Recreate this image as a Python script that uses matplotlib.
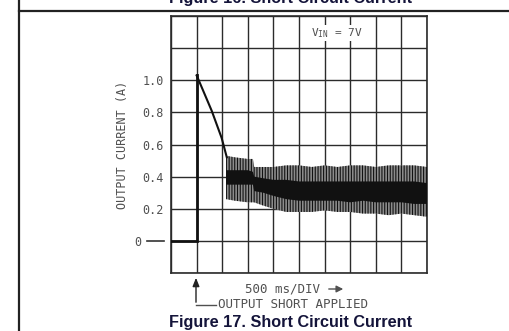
import matplotlib
matplotlib.use("Agg")
import matplotlib.pyplot as plt
from matplotlib.transforms import blended_transform_factory

# ---- data ----
trace_x = [0.0, 1.0, 1.0, 1.03, 1.59, 1.98, 2.18]
trace_y = [0.0, 0.0, 1.03, 1.02, 0.81, 0.64, 0.52]

band_x = [2.15, 2.5, 3.0, 3.2, 3.25, 3.6, 4.0, 4.5, 5.0, 5.5, 6.0, 6.5, 7.0, 7.5, 8.0, 8.5, 9.0, 9.5, 10.0]
outer_hi = [0.53, 0.52, 0.51, 0.51, 0.46, 0.46, 0.46, 0.47, 0.47, 0.46, 0.47, 0.46, 0.47, 0.47, 0.46, 0.47, 0.47, 0.47, 0.46]
outer_lo = [0.26, 0.25, 0.24, 0.24, 0.24, 0.22, 0.20, 0.18, 0.18, 0.18, 0.19, 0.18, 0.18, 0.17, 0.17, 0.16, 0.17, 0.16, 0.15]
inner_hi = [0.44, 0.44, 0.44, 0.43, 0.40, 0.39, 0.38, 0.38, 0.37, 0.37, 0.37, 0.37, 0.37, 0.37, 0.37, 0.37, 0.37, 0.37, 0.36]
inner_lo = [0.35, 0.35, 0.35, 0.35, 0.31, 0.30, 0.28, 0.26, 0.25, 0.25, 0.25, 0.25, 0.24, 0.25, 0.24, 0.24, 0.24, 0.23, 0.23]

x_grid = list(range(0, 11))
ytick_values = [-0.2, 0.0, 0.2, 0.4, 0.6, 0.8, 1.0, 1.2, 1.4]
ytick_labels = ["", "0", "0.2", "0.4", "0.6", "0.8", "1.0", "", ""]

W, H = 510, 331
plt.rcParams["font.family"] = ["DejaVu Sans Mono", "DejaVu Sans"]
plt.rcParams["mathtext.fontset"] = "custom"
plt.rcParams["mathtext.rm"] = "DejaVu Sans Mono"
plt.rcParams["hatch.linewidth"] = 0.8
plt.rcParams["hatch.color"] = "#111111"

txt = "#505050"
fig = plt.figure(figsize=(W / 100, H / 100), dpi=100)
fig.patch.set_facecolor("white")

ax = fig.add_axes([171 / W, 1 - 273 / H, 256 / W, 257 / H])
ax.set_xlim(0, 10)
ax.set_ylim(-0.2, 1.4)

gc = "#2b2b2b"
ax.set_xticks(x_grid)
ax.set_xticklabels([])
ax.set_yticks(ytick_values)
ax.set_yticklabels(ytick_labels)
ax.tick_params(axis="both", length=0, colors=txt, labelsize=8.5, pad=5)
ax.grid(True, color=gc, lw=1.0)
for s in ax.spines.values():
    s.set_color(gc)
    s.set_linewidth(1.2)
for t, v in zip(ax.yaxis.get_major_ticks(), ytick_values):
    if v == 0.0:
        t.set_pad(21)

# dash next to 0
tr = blended_transform_factory(ax.transAxes, ax.transData)
ax.plot([-0.094, -0.027], [0, 0], color="#333333", lw=1.2, transform=tr, clip_on=False)

# trace
ax.plot(trace_x[:3], trace_y[:3], color="#111111", lw=2.0, solid_joinstyle="miter", zorder=5)
ax.plot(trace_x[2:], trace_y[2:], color="#111111", lw=1.5, zorder=5)

# noisy band
ax.fill_between(band_x, outer_lo, outer_hi, facecolor="#8c8c8c", edgecolor="#111111",
                hatch="||||||", lw=0, zorder=4)
ax.fill_between(band_x, inner_lo, inner_hi, facecolor="#111111", lw=0, zorder=4)

# V_IN label
ax.text(6.48, 1.294, r"V$_{\mathrm{IN}}$ = 7V", ha="center", va="center", fontsize=8,
        color=txt, zorder=6,
        bbox=dict(facecolor="white", edgecolor="none", pad=1.0))

# y label
ax.text(-0.191, 0.5, "OUTPUT CURRENT (A)", transform=ax.transAxes, rotation=90,
        ha="center", va="center", fontsize=8.5, color=txt)

# x annotation
fig.text(245 / W, 1 - 289 / H, "500 ms/DIV", ha="left", va="center", fontsize=9, color=txt)
fig.add_artist(matplotlib.patches.FancyArrowPatch((326 / W, 1 - 289 / H), (346 / W, 1 - 289 / H),
               transform=fig.transFigure, arrowstyle="-|>,head_length=4,head_width=2",
               color=txt, lw=1.0, mutation_scale=1))
fig.add_artist(matplotlib.patches.FancyArrowPatch((196 / W, 1 - 305 / H), (196 / W, 1 - 275 / H),
               transform=fig.transFigure, arrowstyle="-|>,head_length=5,head_width=2",
               color="#222222", lw=1.0, mutation_scale=1))
fig.add_artist(matplotlib.lines.Line2D([196 / W, 216 / W], [1 - 305 / H, 1 - 305 / H],
               transform=fig.transFigure, color=txt, lw=1.0))
fig.text(218 / W, 1 - 305 / H, "OUTPUT SHORT APPLIED", ha="left", va="center", fontsize=9, color=txt)

# captions
fig.text(291 / W, 1 - 322 / H, "Figure 17. Short Circuit Current", ha="center", va="center",
         fontsize=11.7, fontweight="bold", family="Liberation Sans", color="#14143a")
fig.text(291 / W, 1 - 2.5 / H, "Figure 16. Short Circuit Current", ha="center", va="baseline",
         fontsize=11.7, fontweight="bold", family="Liberation Sans", color="#14143a")

# frame lines
fig.add_artist(matplotlib.lines.Line2D([18.7 / W, 1.0], [1 - 10.7 / H, 1 - 10.7 / H],
               transform=fig.transFigure, color="#222222", lw=1.6))
fig.add_artist(matplotlib.lines.Line2D([18.7 / W, 18.7 / W], [0, 1],
               transform=fig.transFigure, color="#222222", lw=1.6))

fig.savefig("out.png", dpi=100, facecolor="white")
